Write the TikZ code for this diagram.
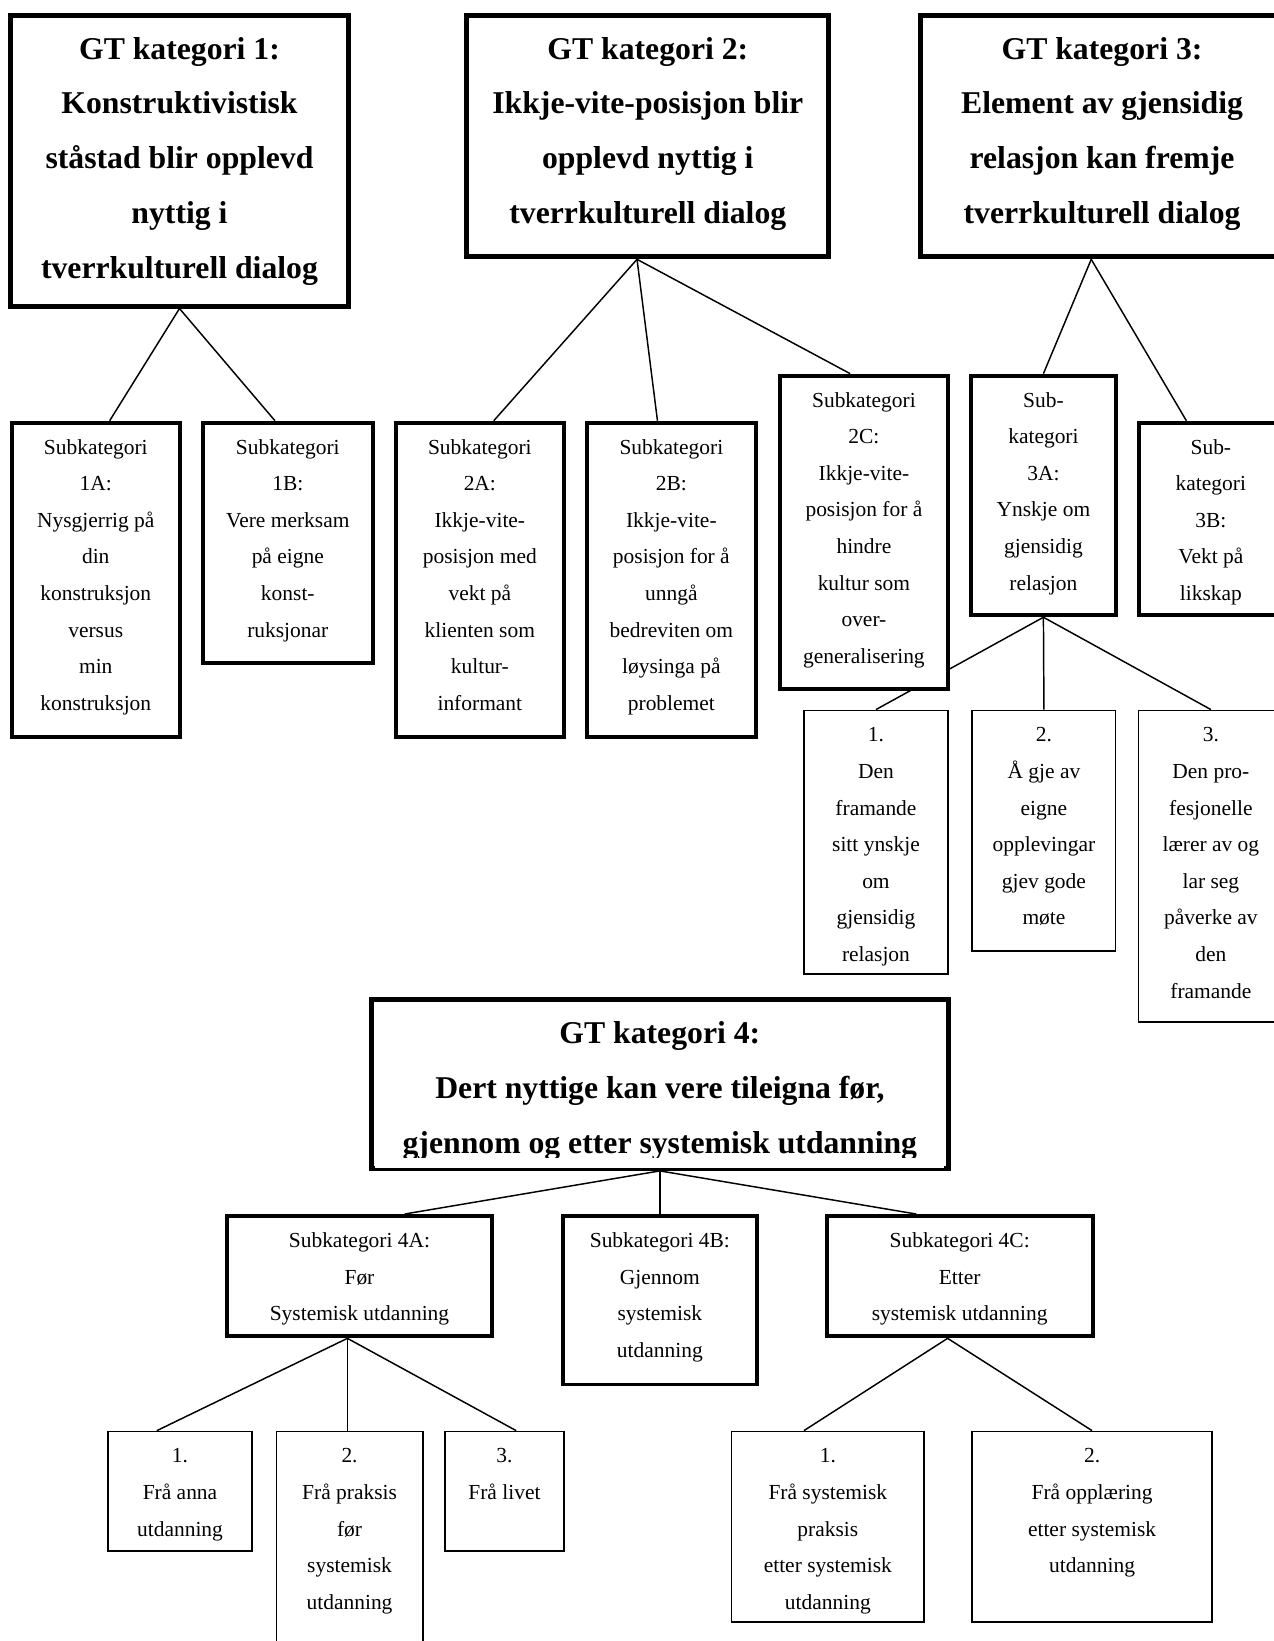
\documentclass[tikz,border=0pt]{standalone}
\usepackage{fontspec}
\setmainfont{Liberation Serif}
\usetikzlibrary{backgrounds,calc}
\newcommand{\gtschrift}{\fontsize{15.15pt}{26.25pt}\selectfont\bfseries}
\newcommand{\subschrift}{\fontsize{10.25pt}{17.5pt}\selectfont}
% Zeilen oben ausgerichtet
\newcommand{\zeilen}[1]{\begin{tabular}[t]{@{}c@{}}#1\end{tabular}}
\tikzset{
	gtbox/.style={draw, line width=2.4pt, fill=white, anchor=north, inner sep=0pt, text height=21pt, font=\gtschrift},
	subbox/.style={draw, line width=1.9pt, fill=white, anchor=north, inner sep=0pt, text height=15pt, font=\subschrift},
	punktbox/.style={subbox, line width=0.75pt},
	linie/.style={line width=0.7pt},
}
\begin{document}
\begin{tikzpicture}[x=0.5pt, y=-0.5pt]
	\useasboundingbox (0,0) rectangle (1217,1568);
	% Kategorie 1
	\node[gtbox, minimum width=161.5pt, text depth=118pt] (gt1) at (171.5,12) {\zeilen{GT kategori 1:\\Konstruktivistisk\\ståstad blir opplevd\\nyttig i\\tverrkulturell dialog}};
	\node[subbox, minimum width=80.5pt, text depth=135pt] (s1a) at (91.5,402) {\zeilen{Subkategori\\1A:\\Nysgjerrig på\\din\\konstruksjon\\versus\\min\\konstruksjon}};
	\node[subbox, minimum width=81pt, text depth=100pt] (s1b) at (275,402) {\zeilen{Subkategori\\1B:\\Vere merksam\\på eigne\\konst-\\ruksjonar}};
	% Kategorie 2
	\node[gtbox, minimum width=173pt, text depth=94.5pt] (gt2) at (619,12) {\zeilen{GT kategori 2:\\Ikkje-vite-posisjon blir\\opplevd nyttig i\\tverrkulturell dialog}};
	\node[subbox, minimum width=80.5pt, text depth=135pt] (s2a) at (458.5,402) {\zeilen{Subkategori\\2A:\\Ikkje-vite-\\posisjon med\\vekt på\\klienten som\\kultur-\\informant}};
	\node[subbox, minimum width=80.5pt, text depth=135pt] (s2b) at (641.5,402) {\zeilen{Subkategori\\2B:\\Ikkje-vite-\\posisjon for å\\unngå\\bedreviten om\\løysinga på\\problemet}};
	\node[subbox, minimum width=80.5pt, text depth=134.5pt] (s2c) at (825.5,357) {\zeilen{Subkategori\\2C:\\Ikkje-vite-\\posisjon for å\\hindre\\kultur som\\over-\\generalisering}};
	% Kategorie 3
	\node[gtbox, minimum width=173pt, text depth=94.5pt] (gt3) at (1053,12) {\zeilen{GT kategori 3:\\Element av gjensidig\\relasjon kan fremje\\tverrkulturell dialog}};
	\node[subbox, minimum width=69pt, text depth=99.5pt] (s3a) at (997,357) {\zeilen{Sub-\\kategori\\3A:\\Ynskje om\\gjensidig\\relasjon}};
	\node[subbox, minimum width=69pt, text depth=77pt] (s3b) at (1157,402) {\zeilen{Sub-\\kategori\\3B:\\Vekt på\\likskap}};
	\node[punktbox, minimum width=69pt, text depth=111pt] (s3a1) at (837,678) {\zeilen{1.\\Den\\framande\\sitt ynskje\\om\\gjensidig\\relasjon}};
	\node[punktbox, minimum width=68.5pt, text depth=100pt] (s3a2) at (997.5,678) {\zeilen{2.\\Å gje av\\eigne\\opplevingar\\gjev gode\\møte}};
	\node[punktbox, minimum width=69pt, text depth=134pt] (s3a3) at (1157,678) {\zeilen{3.\\Den pro-\\fesjonelle\\lærer av og\\lar seg\\påverke av\\den\\framande}};
	% Kategorie 4
	\node[gtbox, minimum width=275.5pt, text depth=59.5pt] (gt4) at (630.5,953) {\zeilen{GT kategori 4:\\Dert nyttige kan vere tileigna før,\\gjennom og etter systemisk utdanning}};
	% Unterlaengen der letzten Zeile abgeschnitten
	\fill[white] ($(gt4.south west)+(3pt,1.3pt)$) rectangle ($(gt4.south east)+(-3pt,6.2pt)$);
	\node[subbox, minimum width=126.5pt, text depth=42.5pt] (s4a) at (343.5,1160) {\zeilen{Subkategori 4A:\\Før\\Systemisk utdanning}};
	\node[subbox, minimum width=92.5pt, text depth=65.5pt] (s4b) at (630.5,1160) {\zeilen{Subkategori 4B:\\Gjennom\\systemisk\\utdanning}};
	\node[subbox, minimum width=127pt, text depth=42.5pt] (s4c) at (917,1160) {\zeilen{Subkategori 4C:\\Etter\\systemisk utdanning}};
	\node[punktbox, minimum width=69pt, text depth=42pt] (s4a1) at (172,1367) {\zeilen{1.\\Frå anna\\utdanning}};
	\node[punktbox, minimum width=70pt, text depth=95pt] (s4a2) at (334,1367) {\zeilen{2.\\Frå praksis\\før\\systemisk\\utdanning}};
	\node[punktbox, minimum width=57pt, text depth=42pt] (s4a3) at (482,1367) {\zeilen{3.\\Frå livet}};
	\node[punktbox, minimum width=92pt, text depth=76pt] (s4c1) at (791,1367) {\zeilen{1.\\Frå systemisk\\praksis\\etter systemisk\\utdanning}};
	\node[punktbox, minimum width=114.5pt, text depth=76pt] (s4c2) at (1043.5,1367) {\zeilen{2.\\Frå opplæring\\etter systemisk\\utdanning}};
	% Verbindungslinien
	\begin{scope}[on background layer]
		\foreach \ziel in {s1a.85, s1b.96}
			\draw[linie] (gt1.south) -- (\ziel);
		\foreach \ziel in {s2a.85, s2b.95, s2c.95}
			\draw[linie] (gt2.265) -- (\ziel);
		\foreach \ziel in {s3a.north, s3b.104}
			\draw[linie] (gt3.265) -- (\ziel);
		\foreach \ziel in {s3a1.north, s3a2.north, s3a3.north}
			\draw[linie] (s3a.south) -- (\ziel);
		\foreach \ziel in {s4a.54, s4b.north, s4c.125}
			\draw[linie] (gt4.south) -- (\ziel);
		\foreach \ziel in {s4a1.111, s4a3.79}
			\draw[linie] (s4a.259) -- (\ziel);
		\draw[linie] (s4a.259) -- (s4a.259 |- s4a2.north);
		\foreach \ziel in {s4c1.104, s4c2.north}
			\draw[linie] (s4c.259) -- (\ziel);
	\end{scope}
\end{tikzpicture}
\end{document}
